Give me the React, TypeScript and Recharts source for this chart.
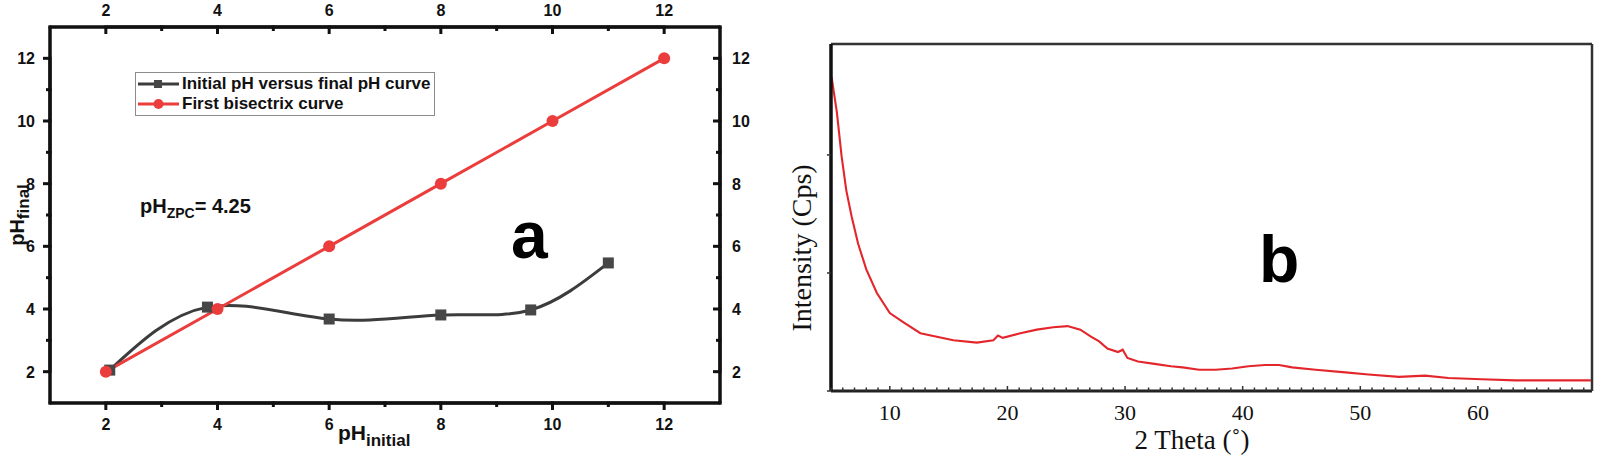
import React from 'react';
import { LineChart, Line, XAxis, YAxis } from 'recharts';

// ---------- Panel a data ----------
const phInitial = [2.07, 3.82, 6.0, 8.0, 9.61, 11.0];
const phFinal = [2.05, 4.06, 3.68, 3.81, 3.97, 5.47];
const bisectrixX = [2, 4, 6, 8, 10, 12];
const bisectrixY = [2, 4, 6, 8, 10, 12];
const phTicks = [2, 3, 4, 5, 6, 7, 8, 9, 10, 11, 12];
const phTickLabels = [2, 4, 6, 8, 10, 12];
const curveName = 'Initial pH versus final pH curve';
const bisectrixName = 'First bisectrix curve';

// ---------- Panel b data ----------
const twoTheta = [
  5.05, 5.5, 5.9, 6.3, 6.75, 7.3, 8.0, 8.9, 10.0, 11.2, 12.6, 14.0, 15.4, 17.4, 18.8,
  19.2, 19.6, 21.1, 22.5, 23.9, 25.1, 26.2, 27.1, 27.8, 28.5, 29.4, 29.8, 30.2, 31.1,
  32.5, 33.9, 34.9, 36.3, 37.7, 39.1, 40.5, 41.9, 43.1, 44.2, 46.2, 48.5, 50.7, 53.3,
  55.5, 57.5, 60.3, 63.2, 66.0, 69.6,
];
const intensity = [
  2.66, 2.36, 1.99, 1.7, 1.48, 1.25, 1.03, 0.83, 0.66, 0.58, 0.49, 0.46, 0.43, 0.41, 0.43,
  0.47, 0.45, 0.49, 0.52, 0.54, 0.55, 0.52, 0.46, 0.42, 0.36, 0.33, 0.35, 0.28, 0.25,
  0.23, 0.21, 0.2, 0.18, 0.18, 0.19, 0.21, 0.22, 0.22, 0.2, 0.18, 0.16, 0.14, 0.12,
  0.13, 0.11, 0.1, 0.09, 0.09, 0.09,
];
const thetaTickLabels = [10, 20, 30, 40, 50, 60];
const thetaMinorTicks = Array.from({ length: 65 }, (_, i) => 5 + i);
const intensityTicks = [0, 1, 2];

const panelAData = [
  ...phInitial.map((x, i) => ({ x, ph: phFinal[i], bis: null as number | null })),
  ...bisectrixX.map((x, i) => ({ x, ph: null as number | null, bis: bisectrixY[i] })),
].sort((a, b) => a.x - b.x);
const xrdData = twoTheta.map((t, i) => ({ t, v: intensity[i] }));

const SANS = '"Liberation Sans", Arial, sans-serif';
const SERIF = '"Liberation Serif", "Times New Roman", serif';
const RED = '#ec3d3d';
const DARK = '#3c3c3c';
const FRAME = '#111';

const phDomain: [number, number] = [1, 13];
const phSpan = phDomain[1] - phDomain[0];
const FRAME_W = 3;

const legendItems = [
  { value: curveName, color: DARK, shape: 'square' },
  { value: bisectrixName, color: RED, shape: 'circle' },
];

const num = (v: any, fb: number) => {
  const n = Number(v);
  return Number.isFinite(n) ? n : fb;
};

// Panel a ticks: filled marks + a piece of the frame edge around each tick + bold label
const PhTickTop = (props: any) => {
  const x = num(props.x, 0);
  const y = num(props.y, 0);
  const w = num(props.width, 670);
  const unit = w / phSpan;
  const v = props.payload.value;
  const major = phTickLabels.includes(v);
  const len = major ? 7 : 4;
  return (
    <g>
      <rect x={x - unit - 1.5} y={y - FRAME_W / 2} width={2 * unit + 3} height={FRAME_W} fill={FRAME} />
      <rect x={x - 1.5} y={y} width={3} height={len} fill={FRAME} />
      {major ? (
        <text x={x} y={y - 11} textAnchor="middle" fontFamily={SANS} fontWeight="bold" fontSize={16} fill="#111">
          {v}
        </text>
      ) : null}
    </g>
  );
};

const PhTickBottom = (props: any) => {
  const x = num(props.x, 0);
  const y = num(props.y, 0);
  const w = num(props.width, 670);
  const unit = w / phSpan;
  const v = props.payload.value;
  const major = phTickLabels.includes(v);
  const len = major ? 7 : 4;
  return (
    <g>
      <rect x={x - unit - 1.5} y={y - FRAME_W / 2} width={2 * unit + 3} height={FRAME_W} fill={FRAME} />
      <rect x={x - 1.5} y={y} width={3} height={len} fill={FRAME} />
      {major ? (
        <text x={x} y={y + 27} textAnchor="middle" fontFamily={SANS} fontWeight="bold" fontSize={16} fill="#111">
          {v}
        </text>
      ) : null}
    </g>
  );
};

const PhTickLeft = (props: any) => {
  const x = num(props.x, 0);
  const y = num(props.y, 0);
  const h = num(props.height, 376);
  const unit = h / phSpan;
  const v = props.payload.value;
  const major = phTickLabels.includes(v);
  const len = major ? 7 : 4;
  return (
    <g>
      <rect x={x - FRAME_W / 2} y={y - unit - 1.5} width={FRAME_W} height={2 * unit + 3} fill={FRAME} />
      <rect x={x - len} y={y - 1.5} width={len} height={3} fill={FRAME} />
      {major ? (
        <text x={x - 15} y={y + 6} textAnchor="end" fontFamily={SANS} fontWeight="bold" fontSize={16} fill="#111">
          {v}
        </text>
      ) : null}
    </g>
  );
};

const PhTickRight = (props: any) => {
  const x = num(props.x, 0);
  const y = num(props.y, 0);
  const h = num(props.height, 376);
  const unit = h / phSpan;
  const v = props.payload.value;
  const major = phTickLabels.includes(v);
  const len = major ? 7 : 4;
  return (
    <g>
      <rect x={x - FRAME_W / 2} y={y - unit - 1.5} width={FRAME_W} height={2 * unit + 3} fill={FRAME} />
      <rect x={x - len} y={y - 1.5} width={len} height={3} fill={FRAME} />
      {major ? (
        <text x={x + 12} y={y + 6} textAnchor="start" fontFamily={SANS} fontWeight="bold" fontSize={16} fill="#111">
          {v}
        </text>
      ) : null}
    </g>
  );
};

const ThetaTick = (props: any) => {
  const { x, y, payload } = props;
  const v = payload.value;
  const major = thetaTickLabels.includes(v);
  return (
    <g>
      <line x1={x} x2={x} y1={y} y2={y - (major ? 5 : 3.5)} stroke="#333" strokeWidth={1.5} />
      {major ? (
        <text x={x} y={y + 29} textAnchor="middle" fontFamily={SERIF} fontSize={22} fill="#111">
          {v}
        </text>
      ) : null}
    </g>
  );
};

const IntensityTick = (props: any) => {
  const { x, y } = props;
  return <line x1={x} x2={x - 4} y1={y} y2={y} stroke="#333" strokeWidth={1.5} />;
};

const SquareDot = (p: any) => {
  if (p.cx == null || p.cy == null || p.value == null) return <g key={p.index} />;
  return <rect key={p.index} x={p.cx - 5.5} y={p.cy - 5.5} width={11} height={11} fill="#474747" />;
};

const RoundDot = (p: any) => {
  if (p.cx == null || p.cy == null || p.value == null) return <g key={p.index} />;
  return <circle key={p.index} cx={p.cx} cy={p.cy} r={6} fill={RED} />;
};

const LegendBox = () => (
  <div
    style={{
      position: 'absolute',
      left: 135,
      top: 72,
      border: '1px solid #8c8c8c',
      background: '#fff',
      padding: '1px 3px 1px 1px',
      width: 300,
      boxSizing: 'border-box',
      fontFamily: SANS,
      fontWeight: 700,
      fontSize: 17,
      color: '#111',
    }}
  >
    {legendItems.map((it) => (
      <div key={it.value} style={{ display: 'flex', alignItems: 'center', height: 20, whiteSpace: 'nowrap' }}>
        <svg width={45} height={20} style={{ flex: '0 0 auto' }}>
          <line x1={1} x2={42} y1={10} y2={10} stroke={it.color} strokeWidth={3} />
          {it.shape === 'square' ? (
            <rect x={17} y={6} width={8} height={8} fill="#474747" />
          ) : (
            <circle cx={21.5} cy={10} r={5} fill={it.color} />
          )}
        </svg>
        <span>{it.value}</span>
      </div>
    ))}
  </div>
);

const thetaDomain: [number, number] = [5, 69.7];
const intensityDomain: [number, number] = [0, 2.94];
const chartMarginA = { top: 1, right: 1, bottom: 0, left: 0 };
const chartMarginB = { top: 43, right: 4, bottom: 0, left: 0 };

const PanelA = () => (
  <LineChart id="panel-a-chart" width={760} height={455} data={panelAData} margin={chartMarginA}>
    <XAxis
      xAxisId="ab"
      orientation="bottom"
      type="number"
      dataKey="x"
      domain={phDomain}
      ticks={phTicks}
      interval={0}
      height={52}
      tickSize={0}
      tickMargin={0}
      tickLine={false}
      axisLine={{ stroke: FRAME, strokeWidth: 3 }}
      tick={PhTickBottom}
      allowDataOverflow
    />
    <XAxis
      xAxisId="at"
      orientation="top"
      type="number"
      dataKey="x"
      domain={phDomain}
      ticks={phTicks}
      interval={0}
      height={26}
      tickSize={0}
      tickMargin={0}
      tickLine={false}
      axisLine={{ stroke: FRAME, strokeWidth: 3 }}
      tick={PhTickTop}
      allowDataOverflow
    />
    <YAxis
      yAxisId="al"
      orientation="left"
      type="number"
      domain={phDomain}
      ticks={phTicks}
      interval={0}
      width={50}
      tickSize={0}
      tickMargin={0}
      tickLine={false}
      axisLine={{ stroke: FRAME, strokeWidth: 3 }}
      tick={PhTickLeft}
      allowDataOverflow
    />
    <YAxis
      yAxisId="ar"
      orientation="right"
      type="number"
      domain={phDomain}
      ticks={phTicks}
      interval={0}
      width={39}
      tickSize={0}
      tickMargin={0}
      tickLine={false}
      axisLine={{ stroke: FRAME, strokeWidth: 3 }}
      tick={PhTickRight}
      allowDataOverflow
    />
    <Line
      xAxisId="ab"
      yAxisId="al"
      dataKey="ph"
      name={curveName}
      type="natural"
      stroke={DARK}
      strokeWidth={3}
      connectNulls
      dot={SquareDot}
      activeDot={false}
      isAnimationActive={false}
    />
    <Line
      xAxisId="ab"
      yAxisId="al"
      dataKey="bis"
      name={bisectrixName}
      type="linear"
      stroke={RED}
      strokeWidth={3}
      connectNulls
      dot={RoundDot}
      activeDot={false}
      isAnimationActive={false}
    />
  </LineChart>
);

const PanelB = () => (
  <LineChart id="panel-b-chart" width={827} height={455} data={xrdData} margin={chartMarginB}>
    <XAxis
      xAxisId="bb"
      orientation="bottom"
      type="number"
      dataKey="t"
      domain={thetaDomain}
      ticks={thetaMinorTicks}
      interval={0}
      height={64}
      tickSize={0}
      tickMargin={0}
      tickLine={false}
      axisLine={{ stroke: '#222', strokeWidth: 3 }}
      tick={ThetaTick}
      allowDataOverflow
    />
    <XAxis
      xAxisId="bt"
      orientation="top"
      type="number"
      dataKey="t"
      domain={thetaDomain}
      height={1}
      tick={false}
      tickLine={false}
      axisLine={{ stroke: '#333', strokeWidth: 2.5 }}
      allowDataOverflow
    />
    <YAxis
      yAxisId="bl"
      orientation="left"
      type="number"
      domain={intensityDomain}
      ticks={intensityTicks}
      interval={0}
      width={61}
      tickSize={0}
      tickMargin={0}
      tickLine={false}
      axisLine={{ stroke: '#111', strokeWidth: 3.5 }}
      tick={IntensityTick}
      allowDataOverflow
    />
    <YAxis
      yAxisId="br"
      orientation="right"
      type="number"
      domain={intensityDomain}
      width={1}
      tick={false}
      tickLine={false}
      axisLine={{ stroke: '#333', strokeWidth: 2.5 }}
      allowDataOverflow
    />
    <Line
      xAxisId="bb"
      yAxisId="bl"
      dataKey="v"
      name="XRD"
      type="linear"
      stroke="#e3262c"
      strokeWidth={2.1}
      dot={false}
      activeDot={false}
      isAnimationActive={false}
    />
  </LineChart>
);

const Overlay = () => (
  <svg
    width={1597}
    height={455}
    style={{ position: 'absolute', left: 0, top: 0, pointerEvents: 'none' }}
  >
    <text
      x={24}
      y={215}
      transform="rotate(-90, 24, 215)"
      textAnchor="middle"
      fontFamily={SANS}
      fontWeight={700}
      fontSize={20}
      fill="#111"
    >
      pH
      <tspan fontSize={17} dy={5}>final</tspan>
    </text>
    <text x={338} y={440} fontFamily={SANS} fontWeight={700} fontSize={21} fill="#111">
      pH
      <tspan fontSize={17} dy={6}>initial</tspan>
    </text>
    <text x={140} y={213} fontFamily={SANS} fontWeight={700} fontSize={20} fill="#111">
      pH
      <tspan fontSize={14} dy={5}>ZPC</tspan>
      <tspan fontSize={20} dy={-5}>= 4.25</tspan>
    </text>
    <text x={511} y={258} fontFamily={SANS} fontWeight={700} fontSize={66} fill="#000">
      a
    </text>
    <text
      x={811}
      y={248}
      transform="rotate(-90, 811, 248)"
      textAnchor="middle"
      fontFamily={SERIF}
      fontSize={28}
      fill="#111"
    >
      Intensity (Cps)
    </text>
    <text x={1192} y={449} textAnchor="middle" fontFamily={SERIF} fontSize={27} fill="#111">
      2 Theta (˚)
    </text>
    <text x={1259} y={282} fontFamily={SANS} fontWeight={700} fontSize={66} fill="#000">
      b
    </text>
  </svg>
);

export default function App() {
  return (
    <div
      style={{
        position: 'absolute',
        left: 0,
        top: 0,
        width: 1597,
        height: 455,
        background: '#fff',
        overflow: 'hidden',
      }}
    >
      <div style={{ position: 'absolute', left: 770, top: 0 }}>
        <PanelB />
      </div>
      <div style={{ position: 'absolute', left: 0, top: 0 }}>
        <PanelA />
      </div>
      <LegendBox />
      <Overlay />
    </div>
  );
}
